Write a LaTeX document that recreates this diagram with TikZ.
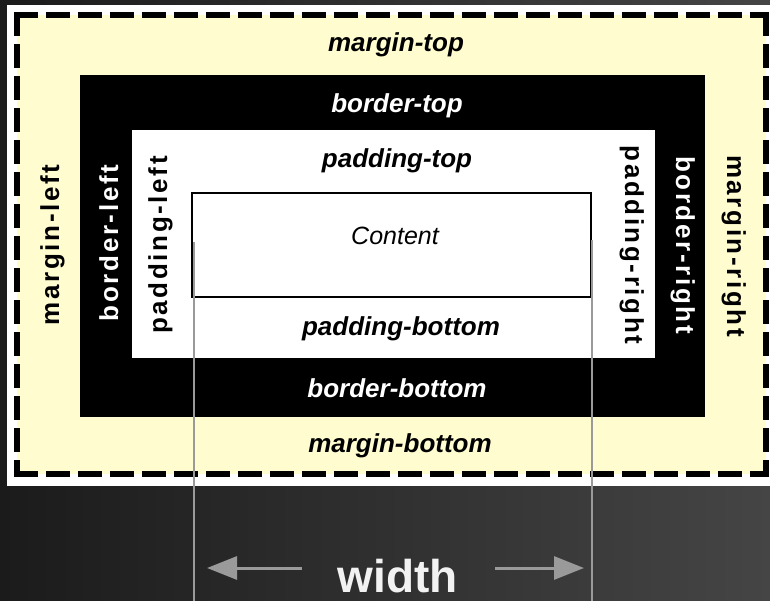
\documentclass[tikz,border=0pt]{standalone}
\usepackage{fontspec}
\setmainfont{Liberation Sans}
\newfontfamily\sidefont[LetterSpace=10]{Liberation Sans}
\usetikzlibrary{arrows.meta}
\definecolor{bgdark}{HTML}{1B1B1B}
\definecolor{bglight}{HTML}{454545}
\definecolor{marginfill}{HTML}{FFFDCF}
\definecolor{guide}{HTML}{9A9A9A}
\definecolor{widthtext}{HTML}{F2F2F2}
\begin{document}
\begin{tikzpicture}[x=1pt,y=-1pt,
  toplabel/.style={font=\fontsize{26}{30}\selectfont\bfseries\itshape, inner sep=0pt, anchor=base},
  sidelabel/.style={font=\sidefont\fontsize{26}{30}\selectfont\bfseries, inner sep=0pt, anchor=base},
  dashside/.style={line width=6pt, dash pattern=on 24pt off 8pt},
  guideline/.style={draw=guide, line width=2.5pt},
  widtharrow/.style={draw=guide, line width=3pt, -{Triangle[length=30pt,width=23pt]}}]
\useasboundingbox (0,0) rectangle (770,601);
% background
\shade[left color=bgdark, right color=bglight] (0,0) rectangle (770,601);
% white frame
\fill[white] (7,5) rectangle (770,486);
% margin area
\fill[marginfill] (17,15) rectangle (766,474);
% dashed margin edge
\draw[dashside] (14,15) -- (769,15);
\draw[dashside] (14,474) -- (769,474);
\draw[dashside] (17,12) -- (17,477);
\draw[dashside] (766,12) -- (766,477);
% border
\fill[black] (80,75) rectangle (705,417);
% padding
\fill[white] (132,130) rectangle (655,358);
% content
\draw[black, line width=1.6pt] (192,193) rectangle (591,297);

% labels
\node[toplabel] (mtop) at (396,52) {margin-top};
\node[toplabel, text=white] (btop) at (397,113) {border-top};
\node[toplabel] (ptop) at (397,168) {padding-top};
\node[font=\fontsize{25}{28}\selectfont\itshape, inner sep=0pt, anchor=base] (content) at (395,245) {Content};
\node[toplabel] (pbottom) at (401,335) {padding-bottom};
\node[toplabel, text=white] (bbottom) at (397,397) {border-bottom};
\node[toplabel] (mbottom) at (400,452) {margin-bottom};

\node[sidelabel, rotate=90] (mleft) at (59,245) {margin-left};
\node[sidelabel, rotate=90, text=white] (bleft) at (118,243) {border-left};
\node[sidelabel, rotate=90] (pleft) at (167,245) {padding-left};
\node[sidelabel, rotate=-90] (pright) at (625,245) {padding-right};
\node[sidelabel, rotate=-90, text=white] (bright) at (676,245) {border-right};
\node[sidelabel, rotate=-90] (mright) at (727,246) {margin-right};

% guide lines
\coordinate (gl1) at (194,242);
\coordinate (gl2) at (194,601);
\coordinate (gr1) at (592,240);
\coordinate (gr2) at (592,601);
\draw[guideline] (gl1) -- (gl2);
\draw[guideline] (gr1) -- (gr2);

% width label and arrows
\node[font=\fontsize{46}{50}\selectfont\bfseries, text=widthtext, inner sep=0pt, anchor=base] (width) at (397.5,592) {width};
\coordinate (al1) at (302,568);
\coordinate (al2) at (207,568);
\coordinate (ar1) at (495,568);
\coordinate (ar2) at (584,568);
\draw[widtharrow] (al1) -- (al2);
\draw[widtharrow] (ar1) -- (ar2);
\end{tikzpicture}
\end{document}
